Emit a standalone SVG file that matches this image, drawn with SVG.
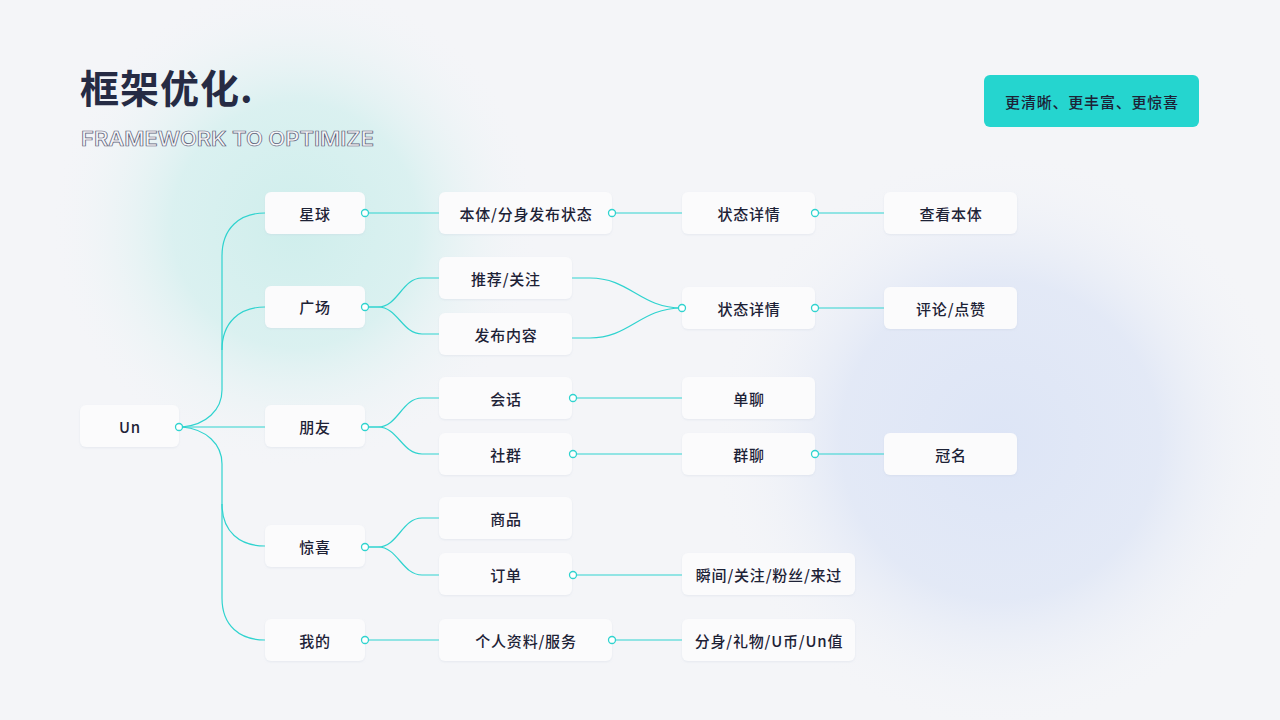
<svg xmlns="http://www.w3.org/2000/svg" width="1280" height="720" viewBox="0 0 1280 720">
<defs>
<radialGradient id="gCyan" cx="295" cy="225" r="245" gradientUnits="userSpaceOnUse">
<stop offset="0" stop-color="#cfeeec" stop-opacity="1"/>
<stop offset="0.5" stop-color="#d6f0ef" stop-opacity="0.85"/>
<stop offset="1" stop-color="#f4f5f8" stop-opacity="0"/>
</radialGradient>
<radialGradient id="gBlue" cx="1000" cy="440" r="290" gradientUnits="userSpaceOnUse">
<stop offset="0" stop-color="#dde5f6" stop-opacity="1"/>
<stop offset="0.55" stop-color="#e0e7f6" stop-opacity="0.85"/>
<stop offset="1" stop-color="#f4f5f8" stop-opacity="0"/>
</radialGradient>
<filter id="sh" x="-10%" y="-20%" width="120%" height="150%">
<feDropShadow dx="0" dy="1" stdDeviation="1.2" flood-color="#b8c2d6" flood-opacity="0.25"/>
</filter>
</defs>
<style>
.box{fill:#fbfbfc;filter:url(#sh)}
.lbl{font-family:"Noto Sans CJK SC","Inter",sans-serif;font-size:15px;font-weight:500;fill:#1d2236;text-anchor:middle;dominant-baseline:central;letter-spacing:0.8px}
.ln{fill:none;stroke:#2fd3cf;stroke-width:1.2}
.dot{fill:#ffffff;stroke:#2fd3cf;stroke-width:1.3}
</style>
<rect width="1280" height="720" fill="#f4f5f8"/>
<circle cx="295" cy="225" r="245" fill="url(#gCyan)"/>
<circle cx="1000" cy="440" r="290" fill="url(#gBlue)"/>

<g id="title">
<text x="80" y="103" font-family="Noto Sans CJK SC, sans-serif" font-size="39" font-weight="700" fill="#262b44" letter-spacing="1">框架优化.</text>
<text x="81" y="146" font-family="Inter, Lato, sans-serif" font-size="20" font-weight="600" fill="#f6f7f9" stroke="#5c6178" stroke-width="0.7" textLength="293" lengthAdjust="spacingAndGlyphs">FRAMEWORK TO OPTIMIZE</text>
</g>

<g id="badge">
<rect x="984" y="75" width="215" height="52" rx="6" fill="#25d5cf"/>
<text class="lbl" x="1092" y="101" fill="#1e2a44">更清晰、更丰富、更惊喜</text>
</g>

<g id="connectors">
<path class="ln" d="M182,427 C206,425 222,410 222,390 L222,256 C222,228 240,213 265,213"/>
<path class="ln" d="M222,350 C222,322 240,307 265,307"/>
<path class="ln" d="M182,427 L265,427"/>
<path class="ln" d="M182,427 C206,429 222,444 222,464 L222,598 C222,626 240,640 265,640"/>
<path class="ln" d="M222,504 C222,532 240,546 265,546"/>
<path class="ln" d="M365,213 L439,213"/>
<path class="ln" d="M612,213 L682,213"/>
<path class="ln" d="M815,213 L884,213"/>
<path class="ln" d="M365,307 L378,307 C398,307 402,278 422,278 L439,278"/>
<path class="ln" d="M365,307 L378,307 C398,307 402,334 422,334 L439,334"/>
<path class="ln" d="M572,278 L590,278 C630,278 640,308 682,308"/>
<path class="ln" d="M572,338 L590,338 C630,338 640,308 682,308"/>
<path class="ln" d="M815,308 L884,308"/>
<path class="ln" d="M365,427 L378,427 C398,427 402,398 422,398 L439,398"/>
<path class="ln" d="M365,427 L378,427 C398,427 402,454 422,454 L439,454"/>
<path class="ln" d="M573,398 L682,398"/>
<path class="ln" d="M573,454 L682,454"/>
<path class="ln" d="M815,454 L884,454"/>
<path class="ln" d="M365,547 L378,547 C398,547 402,518 422,518 L439,518"/>
<path class="ln" d="M365,547 L378,547 C398,547 402,575 422,575 L439,575"/>
<path class="ln" d="M573,575 L682,575"/>
<path class="ln" d="M365,640 L439,640"/>
<path class="ln" d="M612,640 L682,640"/>
</g>

<g id="n-un"><rect class="box" x="80" y="405" width="99" height="42" rx="6"/><text class="lbl" x="130" y="426">Un</text></g>
<g id="n-xingqiu"><rect class="box" x="265" y="192" width="100" height="42" rx="6"/><text class="lbl" x="315" y="213">星球</text></g>
<g id="n-guangchang"><rect class="box" x="265" y="286" width="100" height="42" rx="6"/><text class="lbl" x="315" y="306">广场</text></g>
<g id="n-pengyou"><rect class="box" x="265" y="405" width="100" height="42" rx="6"/><text class="lbl" x="315" y="426">朋友</text></g>
<g id="n-jingxi"><rect class="box" x="265" y="525" width="100" height="42" rx="6"/><text class="lbl" x="315" y="546">惊喜</text></g>
<g id="n-wode"><rect class="box" x="265" y="619" width="100" height="42" rx="6"/><text class="lbl" x="315" y="640">我的</text></g>

<g id="n-benti"><rect class="box" x="439" y="192" width="173" height="42" rx="6"/><text class="lbl" x="526" y="213">本体/分身发布状态</text></g>
<g id="n-tuijian"><rect class="box" x="439" y="257" width="133" height="42" rx="6"/><text class="lbl" x="506" y="278">推荐/关注</text></g>
<g id="n-fabu"><rect class="box" x="439" y="313" width="133" height="42" rx="6"/><text class="lbl" x="506" y="334">发布内容</text></g>
<g id="n-huihua"><rect class="box" x="439" y="377" width="133" height="42" rx="6"/><text class="lbl" x="506" y="398">会话</text></g>
<g id="n-shequn"><rect class="box" x="439" y="433" width="133" height="42" rx="6"/><text class="lbl" x="506" y="454">社群</text></g>
<g id="n-shangpin"><rect class="box" x="439" y="497" width="133" height="42" rx="6"/><text class="lbl" x="506" y="518">商品</text></g>
<g id="n-dingdan"><rect class="box" x="439" y="553" width="133" height="42" rx="6"/><text class="lbl" x="506" y="574">订单</text></g>
<g id="n-geren"><rect class="box" x="439" y="619" width="173" height="42" rx="6"/><text class="lbl" x="526" y="640">个人资料/服务</text></g>

<g id="n-zt1"><rect class="box" x="682" y="192" width="133" height="42" rx="6"/><text class="lbl" x="749" y="213">状态详情</text></g>
<g id="n-zt2"><rect class="box" x="682" y="287" width="133" height="42" rx="6"/><text class="lbl" x="749" y="308">状态详情</text></g>
<g id="n-danliao"><rect class="box" x="682" y="377" width="133" height="42" rx="6"/><text class="lbl" x="749" y="398">单聊</text></g>
<g id="n-qunliao"><rect class="box" x="682" y="433" width="133" height="42" rx="6"/><text class="lbl" x="749" y="454">群聊</text></g>
<g id="n-shunjian"><rect class="box" x="682" y="553" width="173" height="42" rx="6"/><text class="lbl" x="769" y="574">瞬间/关注/粉丝/来过</text></g>
<g id="n-fenshen"><rect class="box" x="682" y="619" width="173" height="42" rx="6"/><text class="lbl" x="769" y="640">分身/礼物/U币/Un值</text></g>

<g id="n-chakan"><rect class="box" x="884" y="192" width="133" height="42" rx="6"/><text class="lbl" x="951" y="213">查看本体</text></g>
<g id="n-pinglun"><rect class="box" x="884" y="287" width="133" height="42" rx="6"/><text class="lbl" x="951" y="308">评论/点赞</text></g>
<g id="n-guanming"><rect class="box" x="884" y="433" width="133" height="42" rx="6"/><text class="lbl" x="951" y="454">冠名</text></g>

<g id="dots">
<circle class="dot" cx="179" cy="427" r="3.5"/>
<circle class="dot" cx="365" cy="213" r="3.5"/>
<circle class="dot" cx="365" cy="307" r="3.5"/>
<circle class="dot" cx="365" cy="427" r="3.5"/>
<circle class="dot" cx="365" cy="547" r="3.5"/>
<circle class="dot" cx="365" cy="640" r="3.5"/>
<circle class="dot" cx="612" cy="213" r="3.5"/>
<circle class="dot" cx="573" cy="398" r="3.5"/>
<circle class="dot" cx="573" cy="454" r="3.5"/>
<circle class="dot" cx="573" cy="575" r="3.5"/>
<circle class="dot" cx="612" cy="640" r="3.5"/>
<circle class="dot" cx="682" cy="308" r="3.5"/>
<circle class="dot" cx="815" cy="213" r="3.5"/>
<circle class="dot" cx="815" cy="308" r="3.5"/>
<circle class="dot" cx="815" cy="454" r="3.5"/>
</g>
</svg>
